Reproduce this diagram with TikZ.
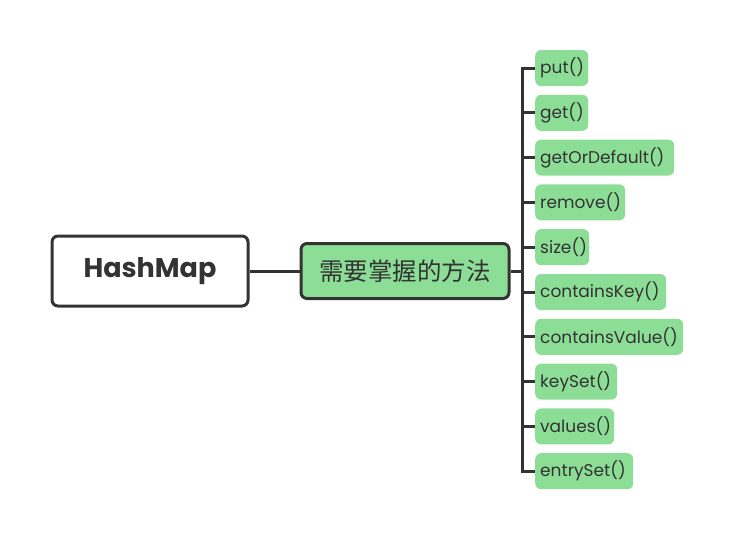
\documentclass[tikz,border=0pt]{standalone}
\usepackage{fontspec}
\setmainfont{Poppins}
\newfontfamily\cjkfont{Noto Sans CJK SC}
\usetikzlibrary{positioning}
\definecolor{mapgreen}{RGB}{140,222,150}
\definecolor{mapline}{RGB}{51,51,51}
\definecolor{maptext}{RGB}{51,51,51}
\tikzset{
  rootbox/.style={draw=mapline, fill=white, line width=3pt,
                  rounded corners=6pt, minimum width=196pt,
                  minimum height=70pt, inner sep=0pt, text=maptext,
                  font=\fontsize{27}{32}\selectfont\bfseries},
  topicbox/.style={draw=mapline, fill=mapgreen, line width=3pt,
                   rounded corners=6pt, minimum width=208pt,
                   minimum height=55pt, inner sep=0pt, text=maptext,
                   font=\cjkfont\fontsize{24.5}{29}\selectfont},
  leafbox/.style={fill=mapgreen, rounded corners=6pt, anchor=west,
                  minimum height=36pt, inner xsep=5pt, inner ysep=0pt,
                  align=left, text=maptext,
                  font=\fontsize{17}{20}\selectfont},
  branch/.style={draw=mapline, line width=3pt},
}
\begin{document}
\begin{tikzpicture}[x=1pt, y=-1pt]
\useasboundingbox (0,0) rectangle (733,541);
% central topic and its parent
\node[rootbox] (root) at (150,271) {HashMap};
\node[topicbox] (topic) at (405,271) {需要掌握的方法};
\draw[branch] (root) -- (topic);
% bus on the right of the topic
\coordinate (bus) at (522,271);
% method leaves
\foreach \l/\w [count=\i] in {%
  put()/53, get()/53, getOrDefault()/139, remove()/90, size()/54,
  containsKey()/131, containsValue()/148, keySet()/82, values()/79,
  entrySet()/98%
}{
  \node[leafbox, text width=(\w-10)*1pt] (m\i) at (535,{68+44.8*(\i-1)}) {\l};
  \draw[branch] (bus |- m\i.west) -- (m\i.west);
}
\draw[branch] (topic.east) -- (bus);
\draw[branch, line cap=rect] (bus |- m1.west) -- (bus |- m10.west);
\end{tikzpicture}
\end{document}
